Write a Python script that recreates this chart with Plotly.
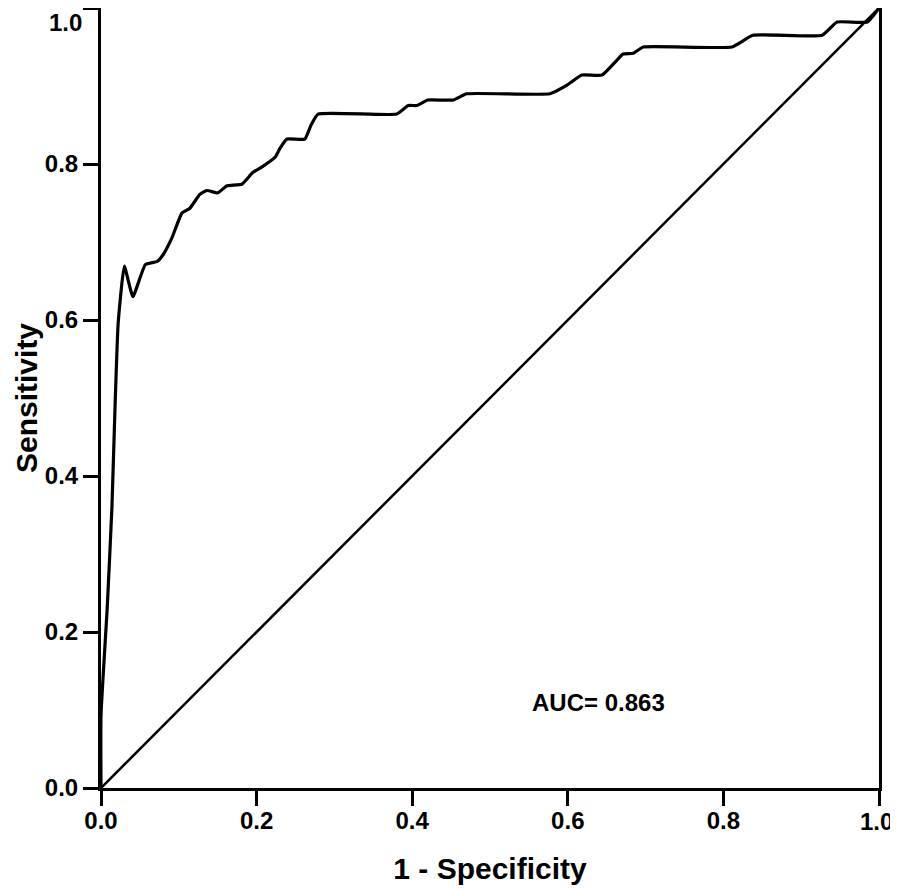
import plotly.graph_objects as go

# ROC curve
fpr = [0.0, 0.0, 0.008, 0.014, 0.018, 0.022, 0.030, 0.041, 0.057, 0.072,
       0.080, 0.091, 0.104, 0.114, 0.127, 0.136, 0.150, 0.162, 0.181, 0.195,
       0.208, 0.224, 0.230, 0.239, 0.262, 0.270, 0.279, 0.380, 0.395, 0.406,
       0.420, 0.453, 0.470, 0.577, 0.599, 0.618, 0.644, 0.663, 0.671, 0.684,
       0.697, 0.811, 0.838, 0.927, 0.946, 0.985, 1.0]
tpr = [0.0, 0.093, 0.231, 0.359, 0.487, 0.595, 0.669, 0.630, 0.671, 0.675,
       0.684, 0.705, 0.737, 0.743, 0.761, 0.766, 0.763, 0.772, 0.774, 0.789,
       0.797, 0.809, 0.820, 0.832, 0.832, 0.850, 0.864, 0.864, 0.875, 0.875,
       0.882, 0.882, 0.890, 0.890, 0.901, 0.914, 0.914, 0.933, 0.941, 0.942,
       0.950, 0.950, 0.965, 0.965, 0.982, 0.982, 1.0]

ref_x = [0.0, 1.0]
ref_y = [0.0, 1.0]

auc_text = "AUC= 0.863"
x_title = "1 - Specificity"
y_title = "Sensitivity"
tick_vals = [0.0, 0.2, 0.4, 0.6, 0.8, 1.0]
tick_text = ["0.0", "0.2", "0.4", "0.6", "0.8", "1.0"]

FONT = "Liberation Sans, Arial, sans-serif"
TICK_FONT = dict(family=FONT, size=24, color="black", weight="bold")
TITLE_FONT = dict(family=FONT, size=30, color="black", weight="bold")

fig = go.Figure()
fig.add_trace(go.Scatter(
    x=fpr, y=tpr, mode="lines",
    line=dict(color="black", width=3.2, shape="spline", smoothing=0.4),
    showlegend=False,
))
fig.add_trace(go.Scatter(
    x=ref_x, y=ref_y, mode="lines",
    line=dict(color="black", width=2.5),
    showlegend=False,
))

fig.add_annotation(
    x=0.639, y=0.110, xref="x", yref="y", text=auc_text, showarrow=False,
    font=dict(family=FONT, size=24, color="black", weight="bold"),
)

# end labels nudged inwards so they stay inside the picture
fig.add_annotation(
    x=0, y=1, xref="paper", yref="y", text=tick_text[-1], showarrow=False,
    xanchor="right", yanchor="middle", xshift=-17, yshift=-14,
    font=TICK_FONT,
)
fig.add_annotation(
    x=1, y=0, xref="x", yref="paper", text=tick_text[-1], showarrow=False,
    xanchor="center", yanchor="middle", xshift=-3, yshift=-33,
    font=TICK_FONT,
)

# y title as an annotation so it can sit close to the left edge
fig.add_annotation(
    x=0, y=0.5, xref="paper", yref="paper", text=y_title, showarrow=False,
    textangle=-90, xanchor="center", yanchor="middle", xshift=-75,
    font=TITLE_FONT,
)

axis_common = dict(
    range=[0, 1], tickvals=tick_vals,
    showgrid=False, zeroline=False, automargin=False,
    showline=True, linecolor="black", linewidth=3, mirror=True,
    ticks="outside", ticklen=15, tickwidth=2.5, tickcolor="black",
    tickfont=TICK_FONT,
)

# the page adds an 8px body margin, so the margins here are shifted by that
fig.update_layout(
    width=890, height=882,
    paper_bgcolor="white", plot_bgcolor="white",
    margin=dict(l=93, r=19, t=0, b=102),
    xaxis=dict(**axis_common, ticktext=tick_text[:-1] + [""], ticklabelstandoff=-6,
               title=dict(text=x_title, standoff=26, font=TITLE_FONT)),
    yaxis=dict(**axis_common, ticktext=tick_text[:-1] + [""]),
)

fig.write_html("out.html")
